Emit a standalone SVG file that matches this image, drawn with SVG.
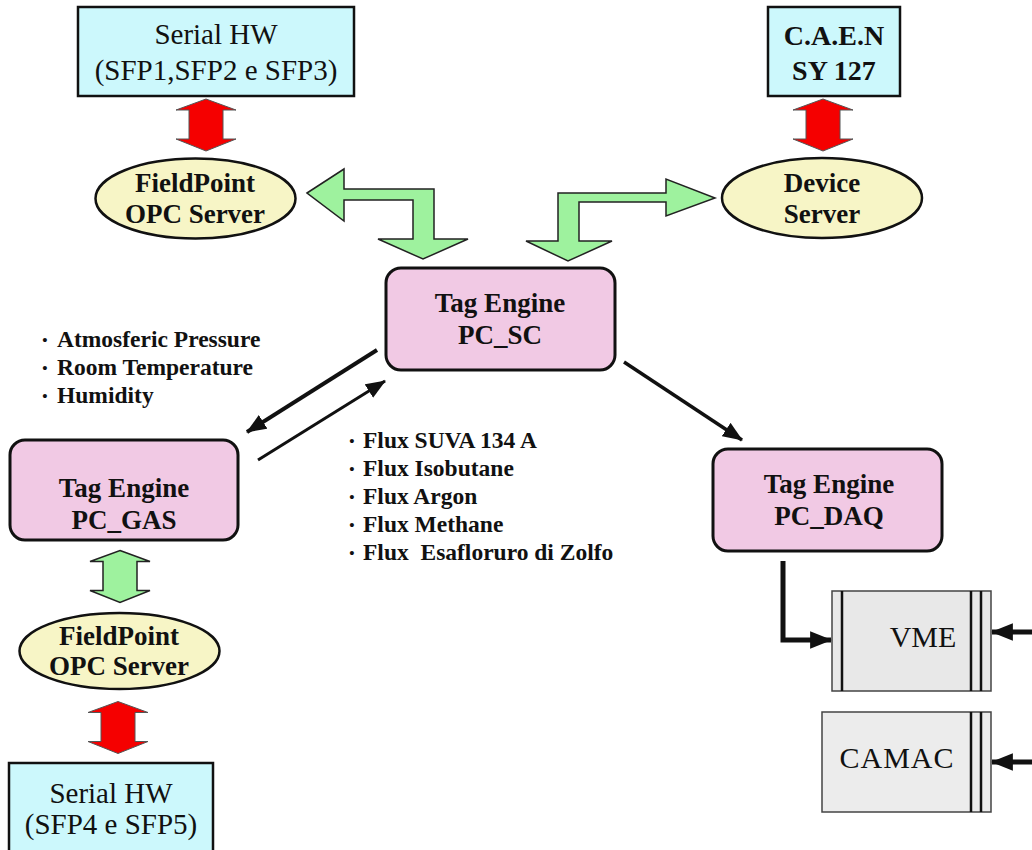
<svg xmlns="http://www.w3.org/2000/svg" width="1032" height="850" viewBox="0 0 1032 850">
  <defs>
    <style>
      text { font-family: "Liberation Serif", "Times New Roman", serif; fill: #111; }
      .lbl { font-size: 27px; font-weight: bold; text-anchor: middle; }
      .hw { font-size: 29px; text-anchor: middle; }
      .crate { font-size: 30px; text-anchor: middle; }
      .item { font-size: 23.5px; font-weight: bold; }
      .dot { font-size: 15px; font-weight: bold; text-anchor: middle; }
      .hwbox { fill: #ccf8fc; stroke: #111; stroke-width: 2.5; }
      .srv { fill: #f7f5c6; stroke: #111; stroke-width: 2.5; }
      .eng { fill: #f1c9e4; stroke: #111; stroke-width: 3; }
      .crbox { fill: #e8e8e8; stroke: #444; stroke-width: 1.5; }
      .slot { stroke: #111; stroke-width: 2.5; }
      .red { fill: #f50000; stroke: #555; stroke-width: 1; }
      .grn { fill: #9ef29e; stroke: #222; stroke-width: 1.5; }
      .wire { fill: none; stroke: #111; }
    </style>
    <path id="dbl" d="M0,-26 L30,-15 L17,-15 L17,14 L30,14 L0,26 L-30,14 L-17,14 L-17,-15 L-30,-15 Z"/>
    <marker id="ah" viewBox="0 0 20 16" refX="19" refY="8" markerWidth="20" markerHeight="16" markerUnits="userSpaceOnUse" orient="auto">
      <path d="M0,0 L20,8 L0,16 Z" fill="#111"/>
    </marker>
    <marker id="ahs" viewBox="0 0 20 16" refX="19" refY="8" markerWidth="22" markerHeight="18" markerUnits="userSpaceOnUse" orient="auto">
      <path d="M0,0 L20,8 L0,16 Z" fill="#111"/>
    </marker>
  </defs>

  <rect width="1032" height="850" fill="#fff"/>

  <!-- connectors -->
  <g id="connectors">
    <use href="#dbl" class="red" transform="translate(206,125)"/>
    <use href="#dbl" class="red" transform="translate(823,125)"/>
    <use href="#dbl" class="grn" transform="translate(120,576.5)"/>
    <use href="#dbl" class="red" transform="translate(118,727.5)"/>
    <polygon class="grn" points="307,193 344,169 344,189 434,189 434,239 468,239 423,259 378,239 413,239 413,200 344,200 344,221"/>
    <polygon class="grn" points="558,193 666,193 666,179 715,198 666,216 666,202 579,202 579,241 612,241 568,261 526,241 558,241"/>
    <line class="wire" x1="377" y1="350" x2="247" y2="432" stroke-width="4" marker-end="url(#ah)"/>
    <line class="wire" x1="258" y1="460" x2="385" y2="381" stroke-width="3" marker-end="url(#ah)"/>
    <line class="wire" x1="624" y1="362" x2="742" y2="440" stroke-width="3.5" marker-end="url(#ah)"/>
    <path class="wire" d="M783,561 V640 H831" stroke-width="5" marker-end="url(#ahs)"/>
    <path class="wire" d="M1034,632 H992" stroke-width="5" marker-end="url(#ahs)"/>
    <path class="wire" d="M1034,762 H992" stroke-width="5" marker-end="url(#ahs)"/>
  </g>

  <g id="serial-hw-1">
    <rect class="hwbox" x="78" y="7" width="276" height="89"/>
    <text class="hw" x="216" y="44">Serial HW</text>
    <text class="hw" x="216" y="80">(SFP1,SFP2 e SFP3)</text>
  </g>

  <g id="caen">
    <rect class="hwbox" x="768" y="7" width="132" height="89"/>
    <text class="lbl" x="834" y="45" style="font-size:28px">C.A.E.N</text>
    <text class="lbl" x="834" y="80" style="font-size:28px">SY 127</text>
  </g>

  <g id="fieldpoint-1">
    <ellipse class="srv" cx="195.5" cy="198.5" rx="100" ry="40"/>
    <text class="lbl" x="195" y="192">FieldPoint</text>
    <text class="lbl" x="195" y="223">OPC Server</text>
  </g>

  <g id="device-server">
    <ellipse class="srv" cx="822" cy="198" rx="100" ry="40"/>
    <text class="lbl" x="822" y="192">Device</text>
    <text class="lbl" x="822" y="223">Server</text>
  </g>

  <g id="pc-sc">
    <rect class="eng" x="386" y="268" width="229" height="102" rx="15"/>
    <text class="lbl" x="500" y="312">Tag Engine</text>
    <text class="lbl" x="500" y="344">PC_SC</text>
  </g>

  <g id="pc-gas">
    <rect class="eng" x="10" y="440" width="228" height="100" rx="15"/>
    <text class="lbl" x="124" y="497">Tag Engine</text>
    <text class="lbl" x="124" y="529">PC_GAS</text>
  </g>

  <g id="pc-daq">
    <rect class="eng" x="713" y="449" width="229" height="102" rx="15"/>
    <text class="lbl" x="829" y="493">Tag Engine</text>
    <text class="lbl" x="829" y="525">PC_DAQ</text>
  </g>

  <g id="fieldpoint-2">
    <ellipse class="srv" cx="119.5" cy="651" rx="100" ry="38"/>
    <text class="lbl" x="119" y="645">FieldPoint</text>
    <text class="lbl" x="119" y="675">OPC Server</text>
  </g>

  <g id="serial-hw-2">
    <rect class="hwbox" x="9" y="763" width="204" height="92"/>
    <text class="hw" x="111" y="803">Serial HW</text>
    <text class="hw" x="111" y="834">(SFP4 e SFP5)</text>
  </g>

  <g id="vme">
    <rect class="crbox" x="832" y="591" width="159" height="100"/>
    <line class="slot" x1="842" y1="591" x2="842" y2="691"/>
    <line class="slot" x1="971" y1="591" x2="971" y2="691"/>
    <line class="slot" x1="981" y1="591" x2="981" y2="691"/>
    <text class="crate" x="923" y="647">VME</text>
  </g>

  <g id="camac">
    <rect class="crbox" x="822" y="712" width="169" height="100" style="fill:#ececec"/>
    <line class="slot" x1="971" y1="712" x2="971" y2="812"/>
    <line class="slot" x1="981" y1="712" x2="981" y2="812"/>
    <text class="crate" x="897" y="768" style="letter-spacing:1px">CAMAC</text>
  </g>

  <g id="ambient-list">
    <text class="dot" x="45" y="345">•</text>
    <text class="item" x="57" y="347">Atmosferic Pressure</text>
    <text class="dot" x="45" y="373">•</text>
    <text class="item" x="57" y="375">Room Temperature</text>
    <text class="dot" x="45" y="401">•</text>
    <text class="item" x="57" y="403">Humidity</text>
  </g>

  <g id="gas-flux-list">
    <text class="dot" x="352" y="446">•</text>
    <text class="item" x="363" y="448">Flux SUVA 134 A</text>
    <text class="dot" x="352" y="474">•</text>
    <text class="item" x="363" y="476">Flux Isobutane</text>
    <text class="dot" x="352" y="502">•</text>
    <text class="item" x="363" y="504">Flux Argon</text>
    <text class="dot" x="352" y="530">•</text>
    <text class="item" x="363" y="532">Flux Methane</text>
    <text class="dot" x="352" y="558">•</text>
    <text class="item" x="363" y="560" xml:space="preserve">Flux  Esafloruro di Zolfo</text>
  </g>
</svg>
